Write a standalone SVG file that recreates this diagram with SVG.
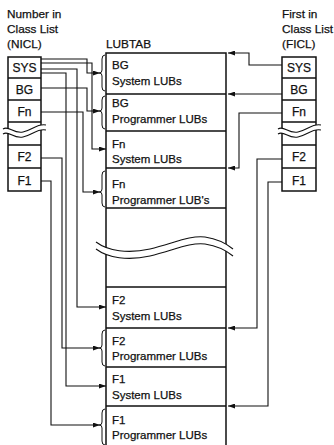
<svg xmlns="http://www.w3.org/2000/svg" width="334" height="445" viewBox="0 0 334 445">
<defs>
<style>
text{font-family:"Liberation Sans",Arial,sans-serif;fill:#111;stroke:#111;stroke-width:0.25}
.h{font-size:11.8px}
.c{font-size:12px;text-anchor:middle}
.t{font-size:11.5px}
.box{fill:none;stroke:#111;stroke-width:1.5}
.ln{fill:none;stroke:#111;stroke-width:1.1}
.br{fill:none;stroke:#111;stroke-width:1}
.wv{fill:none;stroke:#111;stroke-width:1.1}
.gap{fill:#fff;stroke:none}
</style>
<marker id="ah" viewBox="0 0 7 5" refX="7" refY="2.5" markerWidth="7" markerHeight="5" markerUnits="userSpaceOnUse" orient="auto">
<path d="M0,0 L7,2.5 L0,5 z" fill="#111"/>
</marker>
</defs>
<rect width="334" height="445" fill="#fff"/>

<g id="nicl">
<text class="h" x="7" y="18">Number in</text>
<text class="h" x="7" y="33">Class List</text>
<text class="h" x="7" y="48">(NICL)</text>
<path class="box" d="M8,57 H41 V191 H8 Z M8,78 H41 M8,100 H41 M8,122 H41 M8,145 H41 M8,168 H41"/>
<path class="gap" d="M3,129 C9,125 13,134 23,132 C32,130 38,123 46,125 L46,130 C38,128 32,135 23,137 C13,139 9,130 3,134 Z"/>
<path class="wv" d="M3,129 C9,125 13,134 23,132 C32,130 38,123 46,125 M3,134 C9,130 13,139 23,137 C32,135 38,128 46,130"/>
<g id="nicl-sys"><text class="c" x="24.5" y="72">SYS</text></g>
<g id="nicl-bg"><text class="c" x="24.5" y="94">BG</text></g>
<g id="nicl-fn"><text class="c" x="24.5" y="116">Fn</text></g>
<g id="nicl-f2"><text class="c" x="24.5" y="161">F2</text></g>
<g id="nicl-f1"><text class="c" x="24.5" y="185">F1</text></g>
</g>

<g id="ficl">
<text class="h" x="282" y="18">First in</text>
<text class="h" x="282" y="33">Class List</text>
<text class="h" x="282" y="48">(FICL)</text>
<path class="box" d="M282,57 H316 V191 H282 Z M282,78 H316 M282,100 H316 M282,122 H316 M282,145 H316 M282,168 H316"/>
<path class="gap" d="M278,129 C284,125 288,134 298,132 C307,130 313,123 321,125 L321,130 C313,128 307,135 298,137 C288,139 284,130 278,134 Z"/>
<path class="wv" d="M278,129 C284,125 288,134 298,132 C307,130 313,123 321,125 M278,134 C284,130 288,139 298,137 C307,135 313,128 321,130"/>
<g id="ficl-sys"><text class="c" x="299" y="72">SYS</text></g>
<g id="ficl-bg"><text class="c" x="299" y="94">BG</text></g>
<g id="ficl-fn"><text class="c" x="299" y="116">Fn</text></g>
<g id="ficl-f2"><text class="c" x="299" y="161">F2</text></g>
<g id="ficl-f1"><text class="c" x="299" y="185">F1</text></g>
</g>

<g id="lubtab">
<text class="h" x="106" y="48">LUBTAB</text>
<path class="box" d="M106,445 V53 H226 V445 M106,94 H226 M106,131 H226 M106,168 H226 M106,208 H226 M106,287 H226 M106,328 H226 M106,367 H226 M106,406 H226"/>
<path class="gap" d="M96,242 C108,251 128,254 150,249 C172,244 190,235 205,237 C218,239 227,244 233,249 L233,256 C227,251 218,246 205,244 C190,242 172,251 150,256 C128,261 108,258 96,249 Z"/>
<path class="wv" d="M96,242 C108,251 128,254 150,249 C172,244 190,235 205,237 C218,239 227,244 233,249 M96,249 C108,258 128,261 150,256 C172,251 190,242 205,244 C218,246 227,251 233,256"/>
<g id="bg-sys"><path class="br" d="M105,55 Q102,55 102,59 V70 Q102,73 99.5,73 Q102,73 102,76 V87 Q102,91 105,91"/><text class="t" x="112" y="69">BG</text><text class="t" x="112" y="85">System LUBs</text></g>
<g id="bg-prog"><path class="br" d="M105,96 Q102,96 102,100 V108 Q102,111 99.5,111 Q102,111 102,114 V125 Q102,129 105,129"/><text class="t" x="112" y="107">BG</text><text class="t" x="112" y="123">Programmer LUBs</text></g>
<g id="fn-sys"><text class="t" x="112" y="147.5">Fn</text><text class="t" x="112" y="163">System LUBs</text></g>
<g id="fn-prog"><path class="br" d="M105,171 Q102,171 102,175 V189 Q102,192 99.5,192 Q102,192 102,195 V203 Q102,207 105,207"/><text class="t" x="112" y="187.5">Fn</text><text class="t" x="112" y="204">Programmer LUB's</text></g>
<g id="f2-sys"><text class="t" x="112" y="303.5">F2</text><text class="t" x="112" y="319.5">System LUBs</text></g>
<g id="f2-prog"><path class="br" d="M105,330 Q102,330 102,334 V345 Q102,348 99.5,348 Q102,348 102,351 V362 Q102,366 105,366"/><text class="t" x="112" y="344.5">F2</text><text class="t" x="112" y="359.5">Programmer LUBs</text></g>
<g id="f1-sys"><text class="t" x="112" y="383">F1</text><text class="t" x="112" y="398.5">System LUBs</text></g>
<g id="f1-prog"><path class="br" d="M105,409 Q102,409 102,413 V422 Q102,425 99.5,425 Q102,425 102,428 V441 Q102,445 105,445"/><text class="t" x="112" y="423.5">F1</text><text class="t" x="112" y="438.5">Programmer LUBs</text></g>
</g>

<g id="connectors">
<path class="ln" marker-end="url(#ah)" d="M41,59 H87 V73 H100"/>
<path class="ln" marker-end="url(#ah)" d="M41,63 H92 V149 H106"/>
<path class="ln" marker-end="url(#ah)" d="M41,69 H77 V307 H106"/>
<path class="ln" marker-end="url(#ah)" d="M41,73 H66 V386 H106"/>
<path class="ln" marker-end="url(#ah)" d="M41,88 H87 V111 H100"/>
<path class="ln" marker-end="url(#ah)" d="M41,112 H83 V192 H100"/>
<path class="ln" marker-end="url(#ah)" d="M41,158 H62 V348 H100"/>
<path class="ln" marker-end="url(#ah)" d="M41,181 H51 V425 H100"/>
<path class="ln" marker-end="url(#ah)" d="M282,65 H249 V53 H228"/>
<path class="ln" marker-end="url(#ah)" d="M282,94 H228"/>
<path class="ln" marker-end="url(#ah)" d="M282,113 H239 V168 H228"/>
<path class="ln" marker-end="url(#ah)" d="M282,159 H257 V328 H228"/>
<path class="ln" marker-end="url(#ah)" d="M282,182 H268 V406 H228"/>
</g>
</svg>
